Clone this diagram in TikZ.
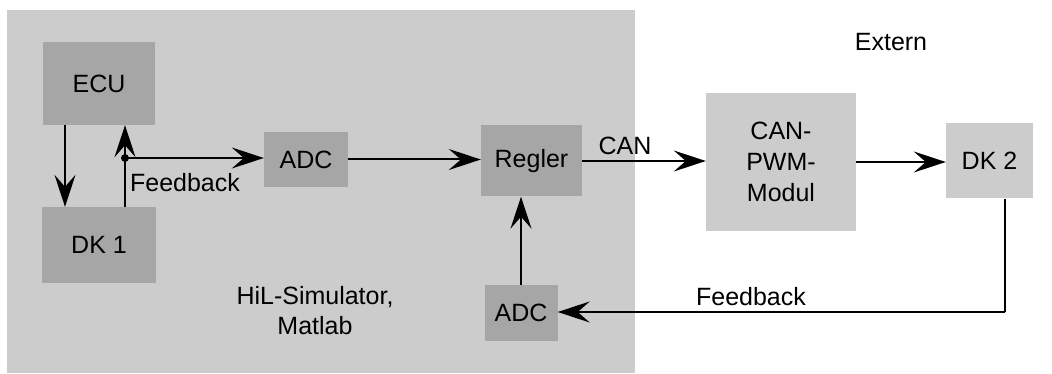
\documentclass[tikz,border=0pt]{standalone}
\usepackage{fontspec}
\setmainfont{Liberation Sans}
\usetikzlibrary{arrows.meta}
\definecolor{bgray}{HTML}{CCCCCC}
\definecolor{dgray}{HTML}{A6A6A6}
\begin{document}
\begin{tikzpicture}[x=1pt,y=-1pt,
  every node/.style={font=\fontsize{25}{31}\selectfont},
  inbox/.style={rectangle,fill=dgray,inner sep=0pt},
  exbox/.style={rectangle,fill=bgray,inner sep=0pt},
  arr/.style={line width=2pt,-{Stealth[length=32pt,width=21pt,inset=12pt]}},
  ln/.style={line width=2pt}]
\useasboundingbox (0,0) rectangle (1052,374);
\fill[bgray] (7,10) rectangle (635,373);
\node[inbox,minimum width=112pt,minimum height=83pt] (ECU) at (99,83.5) {ECU};
\node[inbox,minimum width=114pt,minimum height=76pt] (DK1) at (99,245) {DK 1};
\node[inbox,minimum width=84pt,minimum height=55pt] (ADC1) at (306,159.5) {ADC};
\node[inbox,minimum width=101pt,minimum height=71pt] (Regler) at (531.5,161) {Regler};
\node[inbox,minimum width=73pt,minimum height=56pt] (ADC2) at (521,313) {ADC};
\node[exbox,minimum width=150pt,minimum height=138pt,align=center] (CAN) at (781,162) {CAN-\\PWM-\\Modul};
\node[exbox,minimum width=87pt,minimum height=75pt] (DK2) at (989.5,161) {DK 2};
\node (extern) at (891,42) {Extern};
\node[align=center,font=\fontsize{25}{30}\selectfont] (hil) at (315,311) {HiL-Simulator,\\Matlab};
\coordinate (fb) at (125,158);
\coordinate (corner) at (1005,312);
\draw[arr] ([xshift=-34pt]ECU.south) -- ([xshift=-34pt]DK1.north);
\draw[arr] ([xshift=26pt]DK1.north) -- ([xshift=26pt]ECU.south);
\fill (fb) circle (4pt);
\draw[arr] (fb) -- (fb -| ADC1.west);
\node (fblabel1) at (185,183) {Feedback};
\draw[arr] (ADC1.east) -- (ADC1.east -| Regler.west);
\draw[arr] (Regler.east) -- (Regler.east -| CAN.west);
\node (canlabel) at (625,146) {CAN};
\draw[arr] (CAN.east) -- (CAN.east -| DK2.west);
\draw[ln] (DK2.south -| corner) -- (corner);
\draw[arr] (corner) -- (corner -| ADC2.east);
\node (fblabel2) at (751,297) {Feedback};
\draw[arr] (ADC2.north) -- (ADC2.north |- Regler.south);
\end{tikzpicture}
\end{document}
